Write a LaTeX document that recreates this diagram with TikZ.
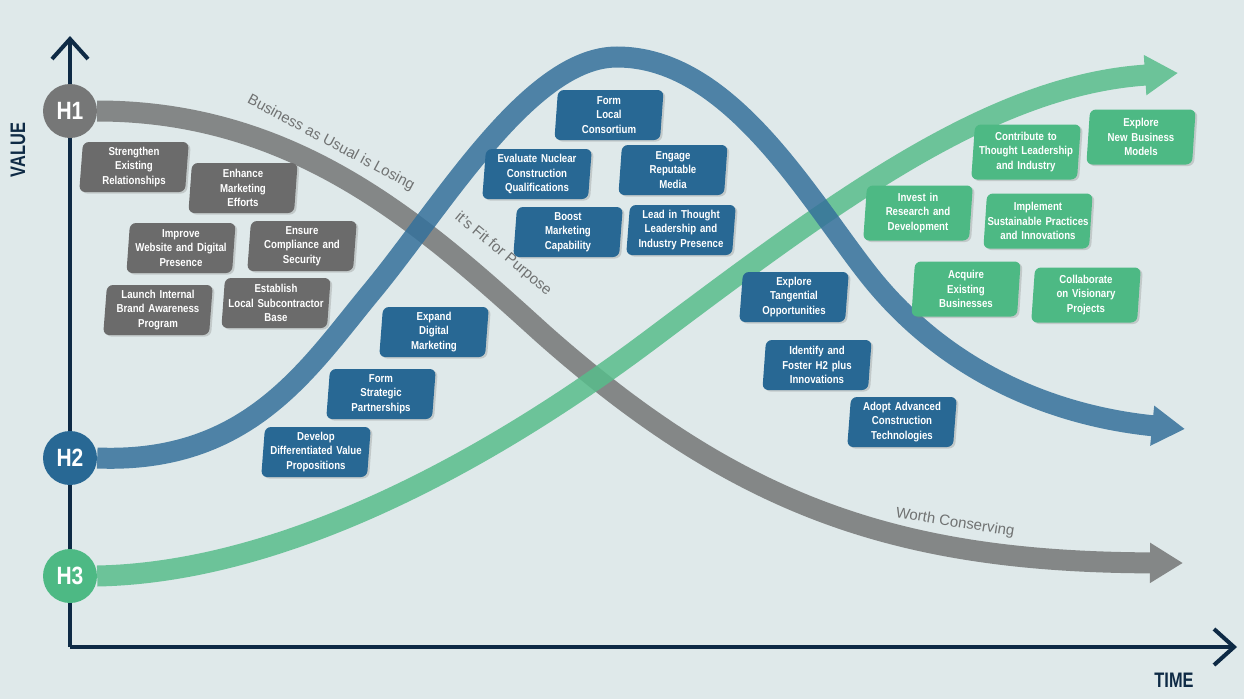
\documentclass[tikz,border=0pt]{standalone}
\usepackage{fontspec}
\setmainfont{Liberation Sans}
\newfontfamily\cardfont[FakeStretch=0.84]{Liberation Sans}
\newfontfamily\axisfont[FakeStretch=0.78]{Liberation Sans}
\usetikzlibrary{arrows.meta,shapes.geometric,shadows}

\definecolor{bgcolor}{HTML}{DFE9EA}
\definecolor{axiscolor}{HTML}{0E2A45}
\definecolor{hubgrey}{HTML}{767777}
\definecolor{hubblue}{HTML}{286894}
\definecolor{hubgreen}{HTML}{4DB984}
\definecolor{cardgrey}{HTML}{6B6B6B}
\definecolor{cardblue}{HTML}{286894}
\definecolor{cardgreen}{HTML}{4DB984}
\definecolor{bandgrey}{HTML}{757676}
\definecolor{bandblue}{HTML}{35719B}
\definecolor{bandgreen}{HTML}{58BD8B}
\definecolor{labelgrey}{HTML}{707272}

\tikzset{
    axis/.style={draw=axiscolor, line width=4pt, -{Straight Barb[length=20pt,width=36pt]}},
    axislabel/.style={text=axiscolor, font=\axisfont\bfseries\fontsize{21}{21}\selectfont},
    hub/.style={shape=circle, minimum size=54pt, inner sep=0pt, text=white, font=\cardfont\bfseries\fontsize{25}{25}\selectfont},
    band/.style={line width=21pt, -{Triangle[length=33pt,width=38pt]}},
    bandlabel/.style={text=labelgrey, font=\fontsize{15}{15}\selectfont},
    card/.style={shape=trapezium, trapezium left angle=85, trapezium right angle=95, trapezium stretches=true,
        rounded corners=6pt, text=white, align=center, text width=102pt, inner xsep=0pt, inner ysep=2pt,
        minimum height=50pt, font=\cardfont\bfseries\fontsize{11.5}{14.5}\selectfont,
        drop shadow={shadow xshift=2pt, shadow yshift=-1.5pt, opacity=0.3}},
    greycard/.style={card, fill=cardgrey},
    bluecard/.style={card, fill=cardblue},
    greencard/.style={card, fill=cardgreen, minimum height=55pt}
}

\begin{document}
\begin{tikzpicture}[x=1pt, y=-1pt]
    \useasboundingbox (0,0) rectangle (1244,699);
    \fill[bgcolor] (0,0) rectangle (1244,699);

    \coordinate (Origin) at (70,647);
    \coordinate (ValueTip) at (70,36);
    \coordinate (TimeTip) at (1237,647);
    \draw[axis] (Origin) -- (ValueTip);
    \draw[axis] (Origin) -- (TimeTip);
    \node[axislabel, rotate=90] (Value) at (18,150) {VALUE};
    \node[axislabel] (Time) at (1174,680) {TIME};

    \node[hub, fill=hubgrey] (H1) at (70,111) {H1};
    \node[hub, fill=hubblue] (H2) at (70,458) {H2};
    \node[hub, fill=hubgreen] (H3) at (70,576) {H3};

    \coordinate (GreyBend) at (542,333);
    \coordinate (GreyTip) at (1183,563);
    \coordinate (GreenBend) at (650,340);
    \coordinate (GreenTip) at (1178,73);
    \coordinate (BlueRise) at (373,290);
    \coordinate (BluePeak) at (617,57);
    \coordinate (BlueFall) at (865,270);
    \coordinate (BlueTip) at (1185,429);

    \begin{scope}[transparency group, opacity=0.85]
        \draw[band, bandgrey] (H1.east) .. controls (297,111) and (424,226) .. (GreyBend)
            .. controls (739,508) and (900,562) .. (GreyTip);
    \end{scope}
    \begin{scope}[transparency group, opacity=0.85]
        \draw[band, bandgreen] (H3.east) .. controls (300,572) and (514,442) .. (GreenBend)
            .. controls (834,202) and (990,85) .. (GreenTip);
    \end{scope}
    \begin{scope}[transparency group, opacity=0.85]
        \draw[band, bandblue] (H2.east) .. controls (250,464) and (309,367) .. (BlueRise)
            .. controls (443,205) and (530,57) .. (BluePeak)
            .. controls (727,57) and (804,191) .. (BlueFall)
            .. controls (944,373) and (1055,416) .. (BlueTip);
    \end{scope}

    \node[bandlabel, rotate=-28] (Losing) at (331,143) {Business as Usual is Losing};
    \node[bandlabel, rotate=-40] (Fit) at (503,254) {it's Fit for Purpose};
    \node[bandlabel, rotate=-9] (Conserving) at (955,523) {Worth Conserving};

    \node[greycard] (Strengthen) at (134,167) {Strengthen\\Existing\\Relationships};
    \node[greycard] (Enhance) at (243,188) {Enhance\\Marketing\\Efforts};
    \node[greycard] (Improve) at (181,248) {Improve\\Website and Digital\\Presence};
    \node[greycard] (Ensure) at (302,246) {Ensure\\Compliance and\\Security};
    \node[greycard] (Launch) at (158,310) {Launch Internal\\Brand Awareness\\Program};
    \node[greycard] (Establish) at (276,303) {Establish\\Local Subcontractor\\Base};

    \node[bluecard] (Consortium) at (609,115) {Form\\Local\\Consortium};
    \node[bluecard] (Evaluate) at (537,174) {Evaluate Nuclear\\Construction\\Qualifications};
    \node[bluecard] (Engage) at (673,170) {Engage\\Reputable\\Media};
    \node[bluecard] (Boost) at (568,232) {Boost\\Marketing\\Capability};
    \node[bluecard] (Lead) at (681,230) {Lead in Thought\\Leadership and\\Industry Presence};
    \node[bluecard] (Expand) at (434,332) {Expand\\Digital\\Marketing};
    \node[bluecard] (Partnerships) at (381,394) {Form\\Strategic\\Partnerships};
    \node[bluecard] (Develop) at (316,452) {Develop\\Differentiated Value\\Propositions};
    \node[bluecard] (Tangential) at (794,297) {Explore\\Tangential\\Opportunities};
    \node[bluecard] (Foster) at (817,365) {Identify and\\Foster H2 plus\\Innovations};
    \node[bluecard] (Adopt) at (902,422) {Adopt Advanced\\Construction\\Technologies};

    \node[greencard] (Contribute) at (1026,152) {Contribute to\\Thought Leadership\\and Industry};
    \node[greencard] (NewModels) at (1141,137) {Explore\\New Business\\Models};
    \node[greencard] (Invest) at (918,213) {Invest in\\Research and\\Development};
    \node[greencard] (Implement) at (1038,221) {Implement\\Sustainable Practices\\and Innovations};
    \node[greencard] (Acquire) at (966,289) {Acquire\\Existing\\Businesses};
    \node[greencard] (Collaborate) at (1086,295) {Collaborate\\on Visionary\\Projects};
\end{tikzpicture}
\end{document}
